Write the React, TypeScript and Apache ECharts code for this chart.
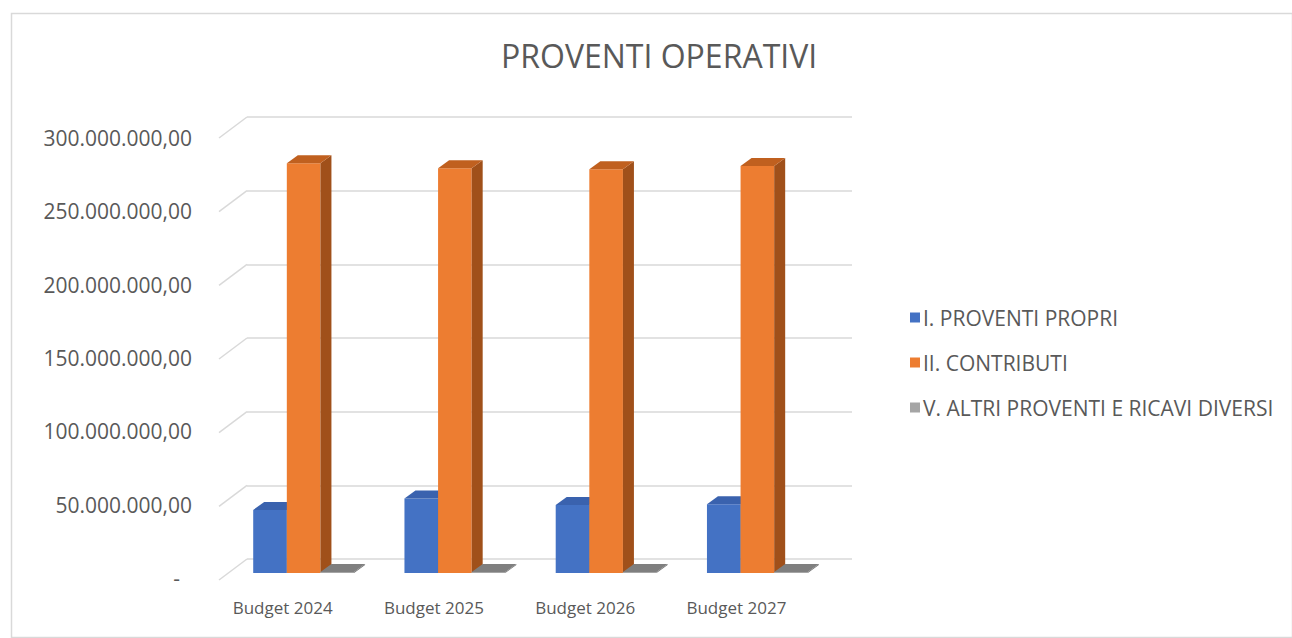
import React, { useEffect, useRef } from 'react';
import * as echarts from 'echarts';

const categories = ['Budget 2024', 'Budget 2025', 'Budget 2026', 'Budget 2027'];
const seriesNames = ['I. PROVENTI PROPRI', 'II. CONTRIBUTI', 'V. ALTRI PROVENTI E RICAVI DIVERSI'];
const proventiPropri = [42800000, 50600000, 46200000, 46600000];
const contributi = [278100000, 274700000, 274000000, 276200000];
const altriProventi = [600000, 600000, 600000, 600000];
const yTicks = [0, 50000000, 100000000, 150000000, 200000000, 250000000, 300000000];

const frontColors = ['#4472C4', '#ED7D31', '#A5A5A5'];
const sideColors = ['#2F528F', '#A0501A', '#6F6F6F'];
const topColors = ['#3A62AE', '#C0601F', '#7F7F7F'];

const FONT = '"Open Sans", "Noto Sans", sans-serif';
const TEXT = '#595959';
const GRID = '#D9D9D9';

function fmt(v: number): string {
  if (v === 0) return '{d|-}';
  return String(Math.round(v)).replace(/\B(?=(\d{3})+(?!\d))/g, '.') + ',00';
}

function makeBarRender(i: number) {
  return (params: any, api: any) => {
    const idx = api.value(0);
    const val = api.value(1);
    const base = api.coord([idx, 0]);
    const top = api.coord([idx, val]);
    const band = api.size([1, 0])[0];
    const bw = band / 4.5;
    const x0 = base[0] - 1.5 * bw + i * bw;
    const x1 = x0 + bw;
    const fx = -19, fy = 14, bx = -8, by = 6;
    const yb = base[1];
    const yt = top[1];
    return {
      type: 'group',
      children: [
        {
          type: 'polygon',
          shape: { points: [[x0 + fx, yt + fy], [x1 + fx, yt + fy], [x1 + fx, yb + fy], [x0 + fx, yb + fy]] },
          style: { fill: frontColors[i] },
        },
        {
          type: 'polygon',
          shape: { points: [[x1 + fx, yt + fy], [x1 + bx, yt + by], [x1 + bx, yb + by], [x1 + fx, yb + fy]] },
          style: { fill: sideColors[i] },
        },
        {
          type: 'polygon',
          shape: { points: [[x0 + fx, yt + fy], [x1 + fx, yt + fy], [x1 + bx, yt + by], [x0 + bx, yt + by]] },
          style: { fill: topColors[i] },
        },
      ],
    };
  };
}

export default function App() {
  const ref = useRef<HTMLDivElement>(null);
  useEffect(() => {
    if (!ref.current) return;
    const chart = echarts.init(ref.current, null, { renderer: 'svg' });
    const valuesList = [proventiPropri, contributi, altriProventi];
    const barSeries = valuesList.map((vals, i) => ({
      type: 'custom',
      name: seriesNames[i],
      xAxisIndex: 0,
      yAxisIndex: 0,
      itemStyle: { color: frontColors[i] },
      renderItem: makeBarRender(i),
      encode: { x: 0, y: 1 },
      data: vals.map((v, k) => [k, v]),
      z: 5 + i,
      silent: true,
    }));
    chart.setOption({
      animation: false,
      backgroundColor: '#ffffff',
      title: {
        text: 'PROVENTI OPERATIVI',
        left: 496,
        top: 34,
        textStyle: { fontFamily: FONT, fontSize: 32, fontWeight: 'normal', color: TEXT },
      },
      legend: {
        orient: 'vertical',
        left: 905,
        top: 302,
        icon: 'rect',
        itemWidth: 10,
        itemHeight: 10,
        itemGap: 24,
        data: seriesNames,
        textStyle: { fontFamily: FONT, fontSize: 21, color: TEXT, padding: [0, 0, 0, -2] },
      },
      graphic: [
        {
          type: 'rect',
          left: 9,
          top: 11,
          shape: { width: 1281, height: 624 },
          style: { fill: 'none', stroke: GRID, lineWidth: 1.5 },
          silent: true,
        },
      ],
      grid: [
        { left: 247, top: 117, width: 605, height: 442 },
        { left: 207, top: 138, width: 605, height: 440 },
      ],
      xAxis: [
        {
          type: 'category',
          gridIndex: 0,
          data: categories,
          axisLine: { show: false },
          axisTick: { show: false },
          axisLabel: { show: false },
        },
        {
          type: 'category',
          gridIndex: 1,
          data: categories,
          axisLine: { show: false },
          axisTick: { show: false },
          axisLabel: { fontFamily: FONT, fontSize: 17, color: TEXT, margin: 21 },
        },
      ],
      yAxis: [
        {
          type: 'value',
          gridIndex: 0,
          min: 0,
          max: 300000000,
          interval: 50000000,
          axisLine: { show: false },
          axisTick: { show: false },
          axisLabel: { show: false },
          splitLine: { lineStyle: { color: GRID, width: 1.5 } },
        },
        {
          type: 'value',
          gridIndex: 1,
          min: 0,
          max: 300000000,
          interval: 50000000,
          axisLine: { show: false },
          axisTick: { show: false },
          splitLine: { show: false },
          axisLabel: {
            fontFamily: FONT,
            fontSize: 21,
            color: TEXT,
            margin: 15,
            formatter: fmt,
            rich: { d: { fontFamily: FONT, fontSize: 21, color: TEXT, padding: [0, 12, 0, 0] } },
          },
        },
      ],
      series: [
        {
          type: 'custom',
          name: 'diag',
          xAxisIndex: 0,
          yAxisIndex: 0,
          silent: true,
          z: 1,
          encode: { x: 0, y: 1 },
          data: yTicks.map((t) => [0, t]),
          renderItem: (params: any, api: any) => {
            const p = api.coord([0, api.value(1)]);
            const x = params.coordSys.x;
            return {
              type: 'line',
              shape: { x1: x, y1: p[1], x2: x - 28, y2: p[1] + 21 },
              style: { stroke: GRID, lineWidth: 1.5 },
            };
          },
        },
        ...barSeries,
      ],
    });
    return () => chart.dispose();
  }, []);
  return (
    <div
      ref={ref}
      style={{ position: 'absolute', left: 0, top: 0, width: 1292, height: 638 }}
    />
  );
}
